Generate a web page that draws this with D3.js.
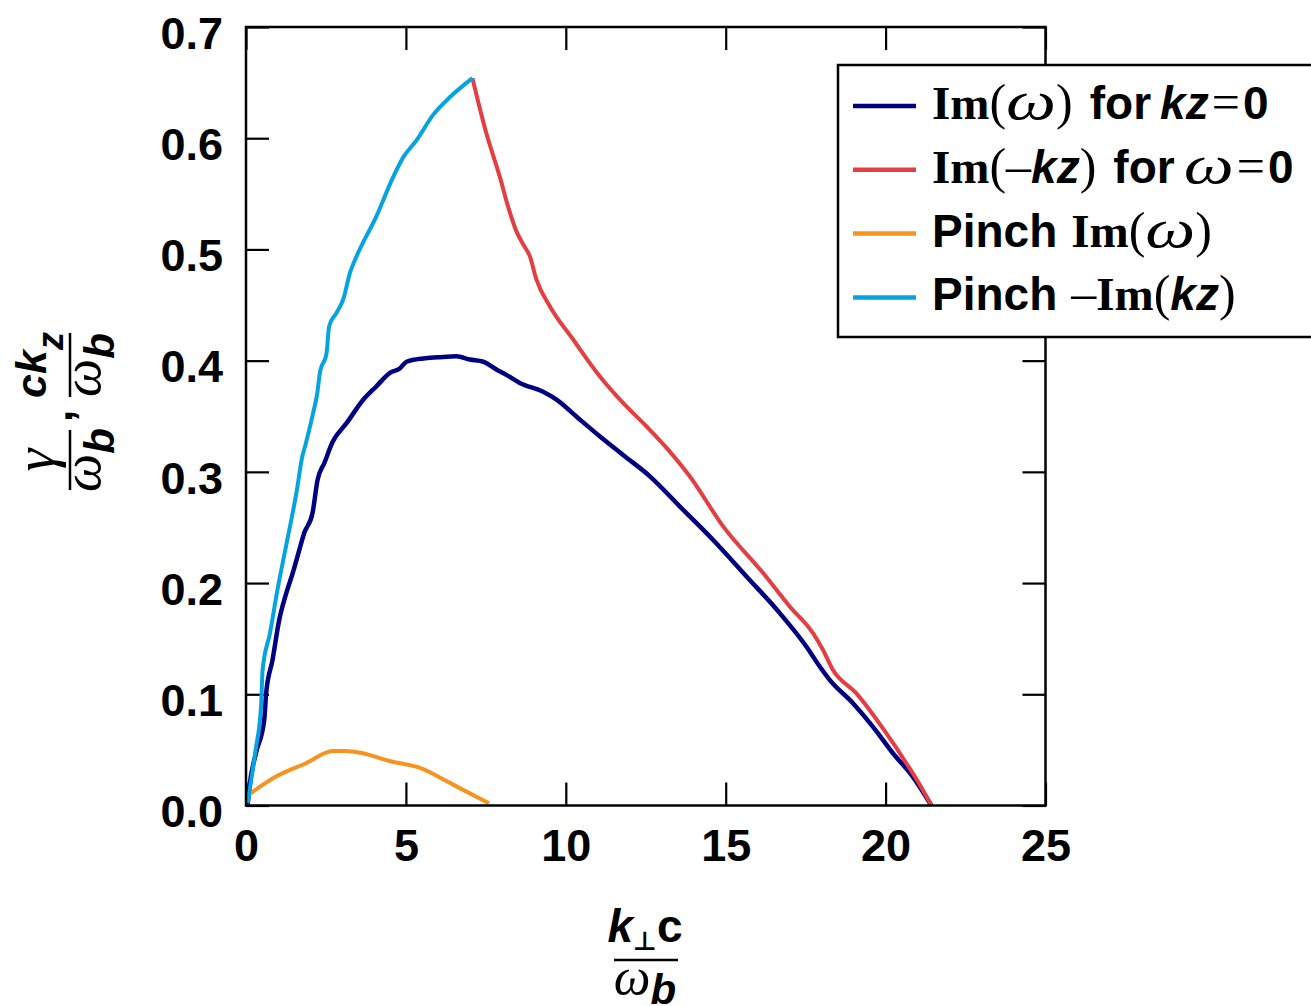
<!DOCTYPE html>
<html>
<head>
<meta charset="utf-8">
<script src="https://cdn.jsdelivr.net/npm/d3@7"></script>
<style>
  html, body { margin: 0; padding: 0; background: #fff; }
  svg { display: block; }
</style>
</head>
<body>
<svg id="chart" width="1311" height="1006"></svg>
<script>
// Growth rates versus perpendicular wavenumber k⊥c/ωb
const imOmegaK = [0.05, 0.1, 0.31, 0.57, 0.63, 0.83, 1.04, 1.25, 1.46, 1.65, 1.82, 2.08, 2.24, 2.45, 2.71, 3.15, 3.67, 4.08, 4.5, 4.81, 5.02, 5.54, 6.0, 6.58, 7.0, 7.42, 7.83, 8.15, 8.56, 9.29, 9.71, 10.4, 11.06, 11.8, 12.63, 13.56, 14.6, 15.65, 16.69, 17.52, 17.94, 18.25, 18.98, 19.6, 20.23, 20.85, 21.43];
const imOmegaVal = [0.0, 0.015, 0.047, 0.077, 0.101, 0.131, 0.167, 0.19, 0.209, 0.228, 0.245, 0.263, 0.293, 0.308, 0.327, 0.344, 0.365, 0.377, 0.389, 0.393, 0.399, 0.402, 0.403, 0.404, 0.401, 0.399, 0.392, 0.387, 0.380, 0.372, 0.365, 0.348, 0.332, 0.315, 0.296, 0.269, 0.239, 0.206, 0.173, 0.143, 0.125, 0.113, 0.092, 0.071, 0.047, 0.026, 0.0];

const imKzK = [7.08, 7.5, 7.94, 8.2, 8.46, 8.7, 8.875, 9.08, 9.5, 10.23, 11.06, 11.79, 12.52, 13.2, 13.875, 14.92, 16.17, 17.0, 17.73, 18.04, 18.35, 19.08, 20.02, 20.65, 21.0, 21.43];
const imKzVal = [0.654, 0.606, 0.565, 0.538, 0.516, 0.503, 0.494, 0.473, 0.449, 0.419, 0.386, 0.362, 0.341, 0.32, 0.296, 0.251, 0.209, 0.179, 0.155, 0.140, 0.122, 0.101, 0.065, 0.038, 0.022, 0.0];

const pinchOmegaK = [0.0, 0.94, 1.875, 2.71, 3.1, 3.65, 4.48, 5.42, 6.46, 7.6];
const pinchOmegaVal = [0.008, 0.026, 0.038, 0.049, 0.049, 0.047, 0.040, 0.034, 0.019, 0.002];

const pinchKzK = [0.05, 0.3, 0.47, 0.52, 0.75, 0.99, 1.25, 1.61, 1.74, 1.875, 2.1, 2.23, 2.31, 2.52, 2.6, 2.83, 3.04, 3.25, 3.46, 4.08, 4.6, 4.92, 5.33, 5.85, 6.38, 7.08];
const pinchKzVal = [0.002, 0.05, 0.089, 0.122, 0.155, 0.195, 0.233, 0.287, 0.311, 0.326, 0.353, 0.371, 0.389, 0.407, 0.431, 0.443, 0.455, 0.479, 0.494, 0.530, 0.565, 0.583, 0.598, 0.621, 0.637, 0.654];

const xTicks = [0, 5, 10, 15, 20, 25];
const yTicks = [0.0, 0.1, 0.2, 0.3, 0.4, 0.5, 0.6, 0.7];

const seriesColors = ["#000080", "#e33e41", "#f7931e", "#05a3e0"];

// Legend entries, each as runs of [text, style]
const legendRows = [
  [["Im", "serifB"], ["(", "paren"], ["ω", "omega"], [")", "paren"], ["for", "sans"], ["kz", "sansI"], ["=", "eq"], ["0", "sans"]],
  [["Im", "serifB"], ["(", "paren"], ["–", "dash"], ["kz", "sansI"], [")", "paren"], ["for", "sans"], ["ω", "omega"], ["=", "eq"], ["0", "sans"]],
  [["Pinch", "sans"], ["Im", "serifB"], ["(", "paren"], ["ω", "omega"], [")", "paren"]],
  [["Pinch", "sans"], ["–", "dash"], ["Im", "serifB"], ["(", "paren"], ["kz", "sansI"], [")", "paren"]]
];

const series = [
  { k: imOmegaK, v: imOmegaVal, color: seriesColors[0], w: 4.5 },
  { k: imKzK, v: imKzVal, color: seriesColors[1], w: 4 },
  { k: pinchOmegaK, v: pinchOmegaVal, color: seriesColors[2], w: 4 },
  { k: pinchKzK, v: pinchKzVal, color: seriesColors[3], w: 4 }
];

(function draw() {
  const svg = d3.select("#chart");
  const pLeft = 246, pRight = 1045.5, pTop = 27, pBottom = 805.5;

  const x = d3.scaleLinear().domain([0, 25]).range([pLeft, pRight]);
  const y = d3.scaleLinear().domain([0, 0.7]).range([pBottom, pTop]);

  const SANS = '"Liberation Sans", Arial, Helvetica, sans-serif';
  const SERIF = '"Liberation Serif", "Times New Roman", serif';

  // Axes with inward ticks on all four sides
  const tickLen = 23;
  const gB = svg.append("g").attr("transform", `translate(0,${pBottom})`)
    .call(d3.axisBottom(x).tickValues(xTicks).tickSize(-tickLen).tickSizeOuter(0).tickPadding(24).tickFormat(d3.format("d")));
  const gL = svg.append("g").attr("transform", `translate(${pLeft},0)`)
    .call(d3.axisLeft(y).tickValues(yTicks).tickSize(-tickLen).tickSizeOuter(0).tickPadding(23).tickFormat(d3.format(".1f")));
  const gT = svg.append("g").attr("transform", `translate(0,${pTop})`)
    .call(d3.axisTop(x).tickValues(xTicks).tickSize(-tickLen).tickSizeOuter(0).tickFormat(""));
  const gR = svg.append("g").attr("transform", `translate(${pRight},0)`)
    .call(d3.axisRight(y).tickValues(yTicks).tickSize(-tickLen).tickSizeOuter(0).tickFormat(""));

  [gB, gL, gT, gR].forEach(g => {
    g.select(".domain").remove();
    g.selectAll(".tick line").attr("stroke", "#000").attr("stroke-width", 2.2);
    g.selectAll(".tick text")
      .attr("fill", "#000")
      .style("font-family", SANS).style("font-weight", "bold").style("font-size", "45px");
  });
  gL.selectAll(".tick text").attr("dy", "0.47em");

  // Series lines
  const line = d3.line().x(d => x(d[0])).y(d => y(d[1])).curve(d3.curveMonotoneX);
  series.forEach(s => {
    const pts = s.k.map((k, i) => [k, s.v[i]]);
    svg.append("path")
      .datum(pts)
      .attr("d", line)
      .attr("fill", "none")
      .attr("stroke", s.color)
      .attr("stroke-width", s.w)
      .attr("stroke-linejoin", "round")
      .attr("stroke-linecap", "butt");
  });

  // Plot frame
  svg.append("rect")
    .attr("x", pLeft).attr("y", pTop)
    .attr("width", pRight - pLeft).attr("height", pBottom - pTop)
    .attr("fill", "none").attr("stroke", "#000").attr("stroke-width", 2.5);

  // Legend
  const lg = svg.append("g");
  lg.append("rect")
    .attr("x", 838).attr("y", 65).attr("width", 500).attr("height", 272)
    .attr("fill", "#fff").attr("stroke", "#000").attr("stroke-width", 2.5);

  // Typography of each run kind: font, size, weight, style, fixed width (for the wide ω), spacing before
  const runStyle = {
    serifB: { f: SERIF, s: 47, w: "bold", i: "normal", pre: 0 },
    paren:  { f: SERIF, s: 50, w: "normal", i: "normal", pre: 0 },
    omega:  { f: SERIF, s: 54, w: "normal", i: "italic", fit: 50, pre: 0 },
    dash:   { f: SERIF, s: 50, w: "normal", i: "normal", pre: 0 },
    eq:     { f: SERIF, s: 50, w: "normal", i: "normal", pre: 3 },
    sans:   { f: SANS, s: 46, w: "bold", i: "normal", pre: 0 },
    sansI:  { f: SANS, s: 46, w: "bold", i: "italic", pre: 0 }
  };

  // Lay out runs left to right as separate text elements
  function layoutRuns(g, x0, baseline, runs) {
    let cx = x0;
    runs.forEach(([txt, kind], j) => {
      const st = runStyle[kind];
      let pre = st.pre;
      // word gaps around "for" and after "Pinch"
      if (txt === "for") pre = 17;
      if (j > 0 && runs[j - 1][0] === "for") pre = 9;
      if (j > 0 && runs[j - 1][0] === "Pinch") pre = 14;
      if (kind === "sans" && txt === "0" && j > 0) pre = 3;
      cx += pre;
      const t = g.append("text").attr("x", 0).attr("y", baseline).attr("fill", "#000")
        .style("font-family", st.f).style("font-size", st.s + "px")
        .style("font-weight", st.w).style("font-style", st.i)
        .text(txt);
      const wdt = t.node().getComputedTextLength();
      const sx = st.fit ? st.fit / wdt : 1;
      t.attr("transform", `translate(${cx},0) scale(${sx},1)`);
      cx += wdt * sx;
    });
  }

  legendRows.forEach((runs, i) => {
    const base = 119 + i * 63.8;
    lg.append("line")
      .attr("x1", 853).attr("x2", 916)
      .attr("y1", base - 13).attr("y2", base - 13)
      .attr("stroke", seriesColors[i]).attr("stroke-width", 4.5);
    layoutRuns(lg, 932, base, runs);
  });

  // X axis label: k⊥c / ωb
  const xl = svg.append("g");
  const xNum = xl.append("text").attr("x", 645).attr("y", 942).attr("text-anchor", "middle").attr("fill", "#000");
  xNum.append("tspan").text("k").style("font-family", SANS).style("font-weight", "bold").style("font-style", "italic").style("font-size", "46px");
  xNum.append("tspan").text("⊥").attr("dy", 8).style("font-family", "DejaVu Sans, sans-serif").style("font-size", "26px").style("font-weight", "bold");
  xNum.append("tspan").text("c").attr("dy", -8).style("font-family", SANS).style("font-weight", "bold").style("font-size", "46px");
  xl.append("line").attr("x1", 614).attr("x2", 678).attr("y1", 960).attr("y2", 960).attr("stroke", "#000").attr("stroke-width", 2.5);
  const xDen = xl.append("text").attr("x", 645).attr("y", 994).attr("text-anchor", "middle").attr("fill", "#000");
  xDen.append("tspan").text("ω").style("font-family", SERIF).style("font-style", "italic").style("font-size", "52px");
  xDen.append("tspan").text("b").attr("dy", 10).style("font-family", SANS).style("font-weight", "bold").style("font-style", "italic").style("font-size", "42px");

  // Y axis label: γ/ωb , ckz/ωb
  const yl = svg.append("g").attr("transform", "translate(70,412) rotate(-90)");
  function frac(cx, x0, x1, numBuild) {
    const num = yl.append("text").attr("x", cx).attr("y", -22).attr("text-anchor", "middle").attr("fill", "#000");
    numBuild(num);
    yl.append("line").attr("x1", x0).attr("x2", x1).attr("y1", 0).attr("y2", 0).attr("stroke", "#000").attr("stroke-width", 2.5);
    const den = yl.append("text").attr("x", cx).attr("y", 30).attr("text-anchor", "middle").attr("fill", "#000");
    den.append("tspan").text("ω").style("font-family", SERIF).style("font-style", "italic").style("font-size", "54px");
    den.append("tspan").text("b").attr("dy", 14).style("font-family", SANS).style("font-weight", "bold").style("font-style", "italic").style("font-size", "42px");
  }
  frac(-48, -78, -18, t => {
    t.attr("y", -16);
    t.append("tspan").text("γ").style("font-family", SERIF).style("font-style", "italic").style("font-size", "58px");
  });
  yl.append("text").attr("x", -4).attr("y", 2).attr("text-anchor", "middle").attr("fill", "#000")
    .style("font-family", SANS).style("font-weight", "bold").style("font-size", "44px").text(",");
  frac(47, 15, 79, t => {
    t.attr("y", -24);
    t.append("tspan").text("ck").style("font-family", SANS).style("font-weight", "bold").style("font-style", "italic").style("font-size", "43px");
    t.append("tspan").text("z").attr("dy", 17).style("font-family", SANS).style("font-weight", "bold").style("font-style", "italic").style("font-size", "36px");
  });
})();
</script>
</body>
</html>
